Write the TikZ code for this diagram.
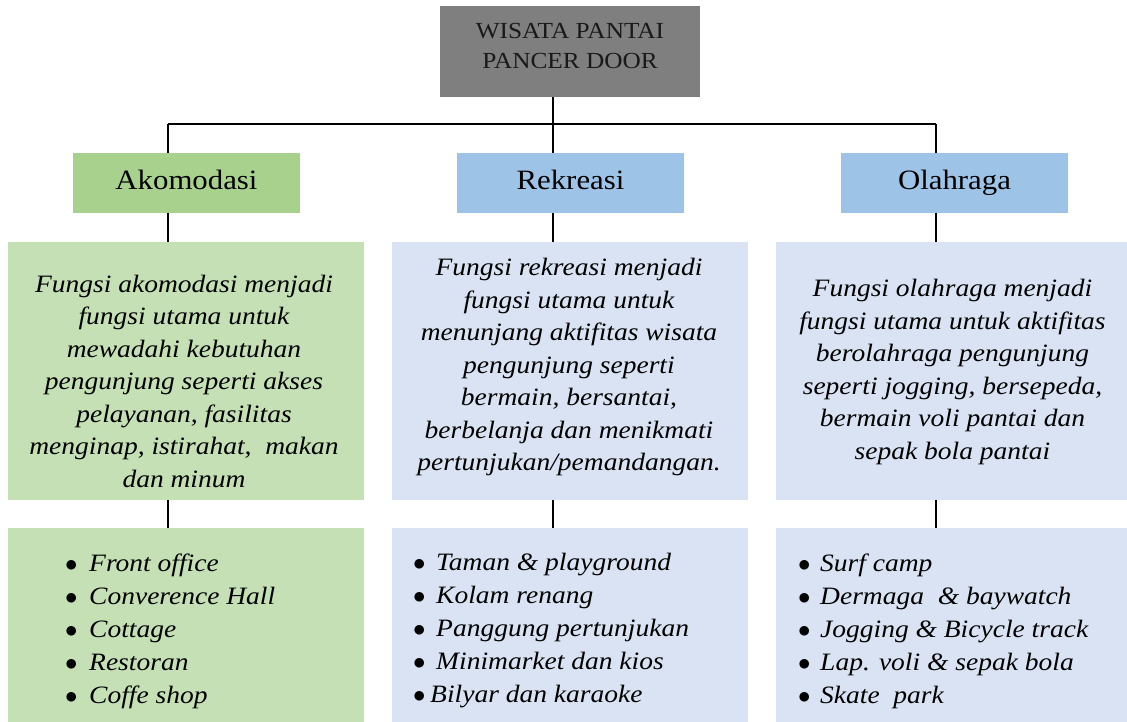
\documentclass[tikz,border=0pt]{standalone}
\usepackage{fontspec}
\setmainfont{Liberation Serif}[FakeStretch=1.1]
\definecolor{topgray}{HTML}{7F7F7F}
\definecolor{hgreen}{HTML}{A9D18E}
\definecolor{lgreen}{HTML}{C5E0B4}
\definecolor{hblue}{HTML}{9DC3E6}
\definecolor{lblue}{HTML}{DAE3F3}
\tikzset{
  box/.style={rectangle, inner sep=0pt, outer sep=0pt, text=black},
  topbox/.style={box, fill=topgray, minimum width=260pt, minimum height=91pt},
  toptext/.style={inner sep=0pt, align=center, text=black!90, font=\fontsize{23}{30}\selectfont},
  headbox/.style={box, minimum width=227pt, minimum height=60pt, text height=19pt, text depth=6pt, font=\fontsize{28}{32}\selectfont},
  descbox/.style={box, minimum height=258pt, align=center, font=\itshape\fontsize{25}{32.5}\selectfont},
  listbox/.style={box, minimum height=194pt},
  listtext/.style={inner sep=0pt, anchor=west, align=left, font=\itshape\fontsize{25}{33}\selectfont},
  conn/.style={draw=black, line width=1.6pt}
}
\newcommand{\bl}[2]{\makebox[#1][l]{\upshape$\bullet$}#2}
\begin{document}
\begin{tikzpicture}[x=1pt,y=-1pt]
\useasboundingbox (0,0) rectangle (1127,722);
% boxes
\node[topbox] (top) at (570,51.5) {};
\node[toptext] (toplabel) at (570,46.5) {WISATA PANTAI\\PANCER DOOR};
\node[headbox, fill=hgreen] (ako) at (186.5,183) {Akomodasi};
\node[headbox, fill=hblue] (rek) at (570.5,183) {Rekreasi};
\node[headbox, fill=hblue] (ola) at (954.5,183) {Olahraga};
\node[descbox, fill=lgreen, minimum width=356pt] (d1) at (186,371) {};
\node[descbox, fill=lblue, minimum width=356pt] (d2) at (570,371) {};
\node[descbox, fill=lblue, minimum width=351pt] (d3) at (951.5,371) {};
\node[listbox, fill=lgreen, minimum width=356pt] (l1) at (186,625) {};
\node[listbox, fill=lblue, minimum width=356pt] (l2) at (570,625) {};
\node[listbox, fill=lblue, minimum width=351pt] (l3) at (951.5,625) {};
% description texts
\node[descbox, minimum height=0pt] (t1) at (184,381) {Fungsi akomodasi menjadi\\fungsi utama untuk\\mewadahi kebutuhan\\pengunjung seperti akses\\pelayanan, fasilitas\\menginap, istirahat,~ makan\\dan minum};
\node[descbox, minimum height=0pt] (t2) at (569,367) {Fungsi rekreasi menjadi\\fungsi utama untuk\\menunjang aktifitas wisata\\pengunjung seperti\\bermain, bersantai,\\berbelanja dan menikmati\\pertunjukan/pemandangan.};
\node[descbox, minimum height=0pt] (t3) at (952.5,372) {Fungsi olahraga menjadi\\fungsi utama untuk aktifitas\\berolahraga pengunjung\\seperti jogging, bersepeda,\\bermain voli pantai dan\\sepak bola pantai};
% lists
\node[listtext] (i1) at (65,631) {\bl{24pt}{Front office}\\\bl{24pt}{Converence Hall}\\\bl{24pt}{Cottage}\\\bl{24pt}{Restoran}\\\bl{24pt}{Coffe shop}};
\node[listtext] (i2) at (413,631) {\bl{23pt}{Taman \& playground}\\\bl{23pt}{Kolam renang}\\\bl{23pt}{Panggung pertunjukan}\\\bl{23pt}{Minimarket dan kios}\\\bl{17pt}{Bilyar dan karaoke}};
\node[listtext] (i3) at (798,631) {\bl{22pt}{Surf camp}\\\bl{22pt}{Dermaga ~\& baywatch}\\\bl{22pt}{Jogging \& Bicycle track}\\\bl{22pt}{Lap. voli \& sepak bola}\\\bl{22pt}{Skate ~park}};
% connectors
\coordinate (jl) at (168,124);
\coordinate (jm) at (553,124);
\coordinate (jr) at (936,124);
\draw[conn] (jl) -- (jr);
\draw[conn] (top.south -| jm) -- (jm |- rek.north);
\draw[conn] (jl) -- (jl |- ako.north);
\draw[conn] (jr) -- (jr |- ola.north);
\draw[conn] (jl |- ako.south) -- (jl |- d1.north);
\draw[conn] (jm |- rek.south) -- (jm |- d2.north);
\draw[conn] (jr |- ola.south) -- (jr |- d3.north);
\draw[conn] (jl |- d1.south) -- (jl |- l1.north);
\draw[conn] (jm |- d2.south) -- (jm |- l2.north);
\draw[conn] (jr |- d3.south) -- (jr |- l3.north);
\end{tikzpicture}
\end{document}
